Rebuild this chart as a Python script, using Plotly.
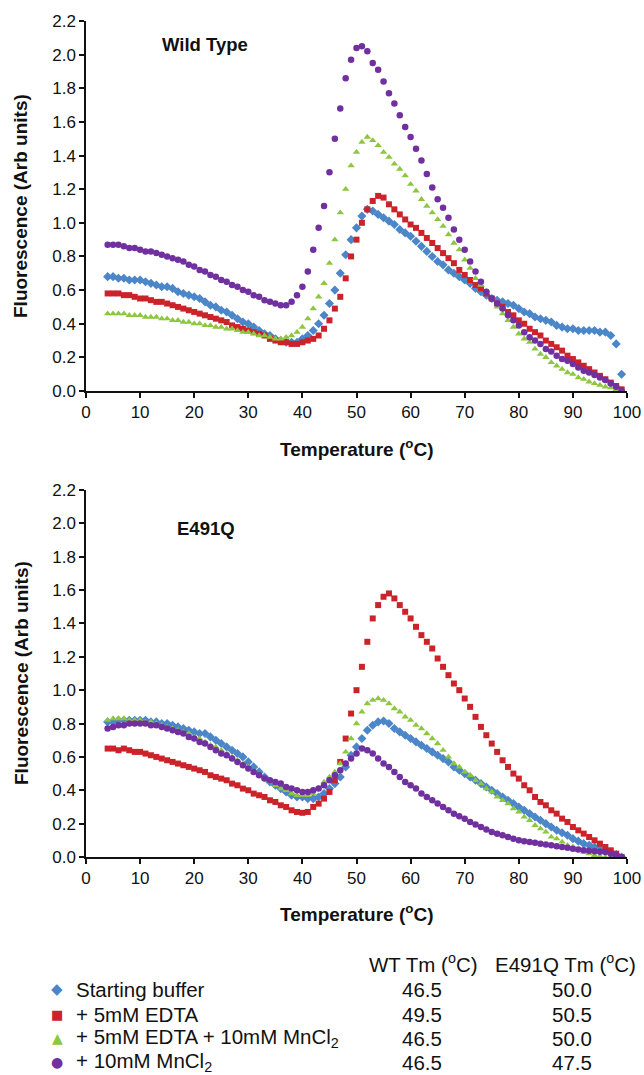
import plotly.graph_objects as go

# ---------------- data ----------------
temperature = list(range(4, 100))  # deg C

wt_buffer = [0.68,0.68,0.67,0.67,0.66,0.66,0.66,0.65,0.64,0.63,
             0.62,0.62,0.61,0.59,0.58,0.57,0.56,0.55,0.53,0.51,
             0.50,0.48,0.47,0.45,0.43,0.41,0.40,0.38,0.36,0.34,
             0.33,0.31,0.30,0.29,0.29,0.29,0.31,0.33,0.36,0.40,
             0.45,0.52,0.60,0.70,0.81,0.90,0.97,1.04,1.08,1.07,
             1.05,1.03,1.01,0.99,0.96,0.94,0.92,0.89,0.86,0.83,
             0.80,0.77,0.75,0.72,0.70,0.68,0.66,0.64,0.61,0.59,
             0.57,0.55,0.54,0.53,0.52,0.51,0.49,0.47,0.46,0.44,
             0.43,0.42,0.41,0.39,0.38,0.37,0.37,0.36,0.36,0.36,
             0.36,0.35,0.35,0.33,0.28,0.10]
wt_edta = [0.58,0.58,0.58,0.57,0.57,0.56,0.55,0.55,0.54,0.53,
           0.53,0.52,0.51,0.50,0.49,0.48,0.47,0.46,0.45,0.44,
           0.43,0.42,0.41,0.39,0.38,0.37,0.36,0.35,0.34,0.33,
           0.31,0.30,0.29,0.29,0.28,0.28,0.29,0.30,0.31,0.33,
           0.37,0.42,0.49,0.56,0.67,0.80,0.90,1.00,1.08,1.13,
           1.16,1.15,1.11,1.08,1.05,1.02,0.99,0.97,0.94,0.91,
           0.88,0.85,0.82,0.79,0.76,0.72,0.69,0.66,0.63,0.61,
           0.58,0.55,0.52,0.50,0.47,0.45,0.42,0.40,0.37,0.35,
           0.33,0.30,0.28,0.26,0.24,0.21,0.19,0.17,0.15,0.13,
           0.11,0.09,0.07,0.05,0.03,0.01]
wt_edta_mn = [0.46,0.46,0.46,0.46,0.45,0.45,0.45,0.44,0.44,0.44,
              0.43,0.43,0.42,0.42,0.41,0.41,0.40,0.40,0.39,0.39,
              0.38,0.38,0.37,0.37,0.36,0.35,0.35,0.34,0.33,0.33,
              0.32,0.31,0.31,0.32,0.33,0.35,0.38,0.43,0.49,0.56,
              0.64,0.76,0.90,1.06,1.20,1.34,1.42,1.48,1.51,1.49,
              1.46,1.42,1.39,1.35,1.32,1.28,1.23,1.19,1.14,1.10,
              1.06,1.02,0.98,0.93,0.88,0.84,0.78,0.73,0.67,0.63,
              0.59,0.55,0.50,0.46,0.42,0.38,0.34,0.31,0.29,0.25,
              0.22,0.20,0.17,0.15,0.13,0.11,0.10,0.08,0.07,0.055,
              0.045,0.035,0.025,0.02,0.01,0.00]
wt_mn = [0.87,0.87,0.87,0.86,0.85,0.85,0.84,0.83,0.83,0.82,
         0.81,0.80,0.79,0.78,0.77,0.75,0.74,0.72,0.71,0.69,
         0.68,0.66,0.65,0.63,0.62,0.60,0.59,0.57,0.56,0.54,
         0.53,0.52,0.51,0.51,0.53,0.57,0.62,0.71,0.84,0.97,
         1.10,1.30,1.50,1.68,1.86,1.97,2.04,2.05,2.02,1.95,
         1.91,1.84,1.77,1.71,1.64,1.57,1.51,1.44,1.37,1.29,
         1.21,1.14,1.09,1.03,0.96,0.90,0.84,0.77,0.71,0.65,
         0.59,0.55,0.52,0.49,0.45,0.42,0.39,0.35,0.32,0.30,
         0.28,0.25,0.235,0.21,0.19,0.18,0.16,0.14,0.12,0.11,
         0.095,0.08,0.065,0.045,0.025,0.005]

mut_buffer = [0.81,0.81,0.82,0.82,0.82,0.82,0.82,0.82,0.81,0.81,
              0.80,0.80,0.79,0.78,0.77,0.76,0.75,0.74,0.74,0.72,
              0.70,0.68,0.66,0.64,0.62,0.60,0.57,0.54,0.51,0.48,
              0.45,0.43,0.41,0.39,0.37,0.36,0.36,0.35,0.35,0.36,
              0.38,0.41,0.44,0.48,0.54,0.61,0.66,0.71,0.76,0.79,
              0.81,0.815,0.80,0.77,0.75,0.73,0.71,0.69,0.67,0.65,
              0.63,0.61,0.59,0.57,0.54,0.52,0.50,0.48,0.46,0.44,
              0.42,0.40,0.38,0.36,0.34,0.32,0.30,0.28,0.26,0.24,
              0.22,0.20,0.18,0.16,0.145,0.13,0.11,0.095,0.08,0.07,
              0.06,0.05,0.04,0.03,0.015,0.0]
mut_edta = [0.65,0.65,0.64,0.65,0.64,0.63,0.63,0.62,0.61,0.60,
            0.59,0.58,0.57,0.56,0.55,0.54,0.53,0.52,0.51,0.49,
            0.48,0.47,0.46,0.44,0.43,0.41,0.40,0.38,0.37,0.36,
            0.34,0.33,0.31,0.30,0.28,0.27,0.265,0.27,0.30,0.32,
            0.35,0.39,0.46,0.57,0.71,0.86,1.00,1.14,1.29,1.43,
            1.51,1.56,1.58,1.55,1.51,1.47,1.43,1.38,1.33,1.29,
            1.25,1.19,1.14,1.09,1.04,1.00,0.95,0.90,0.84,0.78,
            0.73,0.68,0.63,0.58,0.54,0.50,0.47,0.43,0.40,0.36,
            0.33,0.31,0.28,0.26,0.23,0.21,0.18,0.16,0.14,0.12,
            0.10,0.08,0.06,0.04,0.02,0.00]
mut_edta_mn = [0.82,0.83,0.83,0.83,0.82,0.82,0.82,0.81,0.81,0.80,
               0.79,0.78,0.77,0.76,0.75,0.74,0.72,0.71,0.69,0.67,
               0.66,0.64,0.62,0.60,0.58,0.56,0.54,0.51,0.49,0.47,
               0.45,0.43,0.41,0.40,0.38,0.37,0.37,0.37,0.38,0.41,
               0.45,0.48,0.51,0.56,0.63,0.71,0.80,0.87,0.92,0.94,
               0.95,0.94,0.92,0.89,0.87,0.84,0.82,0.79,0.77,0.74,
               0.71,0.68,0.64,0.60,0.56,0.54,0.51,0.49,0.46,0.44,
               0.41,0.39,0.36,0.34,0.32,0.29,0.27,0.24,0.22,0.19,
               0.17,0.15,0.12,0.11,0.09,0.07,0.06,0.04,0.03,0.02,
               0.01,0.005,0.0,0.0,0.0,0.0]
mut_mn = [0.77,0.78,0.79,0.79,0.80,0.80,0.80,0.80,0.79,0.79,
          0.78,0.77,0.76,0.75,0.74,0.72,0.71,0.69,0.68,0.66,
          0.64,0.62,0.61,0.59,0.57,0.55,0.53,0.51,0.49,0.47,
          0.46,0.45,0.44,0.42,0.41,0.40,0.39,0.39,0.40,0.41,
          0.43,0.46,0.49,0.52,0.56,0.59,0.62,0.65,0.64,0.62,
          0.59,0.56,0.54,0.51,0.48,0.45,0.43,0.41,0.38,0.36,
          0.34,0.32,0.30,0.28,0.26,0.245,0.23,0.21,0.195,0.18,
          0.165,0.15,0.14,0.13,0.12,0.11,0.10,0.095,0.09,0.085,
          0.08,0.075,0.07,0.065,0.06,0.055,0.05,0.045,0.04,0.038,
          0.035,0.032,0.03,0.02,0.01,0.0]

series_names = ["Starting buffer", "+ 5mM EDTA",
                "+ 5mM EDTA + 10mM MnCl<sub>2</sub>", "+ 10mM MnCl<sub>2</sub>"]
wt_tm = ["46.5", "49.5", "46.5", "46.5"]
mut_tm = ["50.0", "50.5", "50.0", "47.5"]
panel_labels = ["Wild Type", "E491Q"]
x_ticks = list(range(0, 101, 10))
y_ticks = [0.0, 0.2, 0.4, 0.6, 0.8, 1.0, 1.2, 1.4, 1.6, 1.8, 2.0, 2.2]

# ---------------- style ----------------
colors = ["#4A86C8", "#CC2229", "#8DC63F", "#7030A0"]
symbols = ["diamond", "square", "triangle-up", "circle"]
sizes = [7, 6, 6.5, 6.5]
glyphs = ["\u25C6", "\u25A0", "\u25B2", "\u25CF"]
glyph_sizes = [15, 13, 14, 14]
FONT = "Liberation Sans, Arial, sans-serif"
INK = "#111111"
W, H = 644, 1075

def px(v):
    return v / W

def py(v):
    return (H - v) / H

fig = go.Figure()
wt_sets = [wt_buffer, wt_edta, wt_edta_mn, wt_mn]
mut_sets = [mut_buffer, mut_edta, mut_edta_mn, mut_mn]
for i in range(4):
    fig.add_trace(go.Scatter(
        x=temperature, y=wt_sets[i], mode="markers", name=series_names[i],
        legendgroup=str(i), showlegend=False, xaxis="x", yaxis="y",
        marker=dict(symbol=symbols[i], size=sizes[i], color=colors[i], line=dict(width=0))))
for i in range(4):
    fig.add_trace(go.Scatter(
        x=temperature, y=mut_sets[i], mode="markers", name=series_names[i],
        legendgroup=str(i), showlegend=False, xaxis="x2", yaxis="y2",
        marker=dict(symbol=symbols[i], size=sizes[i], color=colors[i], line=dict(width=0))))

xdom = [px(86), px(627)]
axis_common = dict(showline=True, linecolor=INK, linewidth=1.5, ticks="outside",
                   ticklen=5, tickwidth=1.5, tickcolor=INK, showgrid=False,
                   zeroline=False, automargin=False,
                   tickfont=dict(family=FONT, size=17, color=INK))
xaxis_common = dict(axis_common, range=[0, 100], tickvals=x_ticks)
yaxis_common = dict(axis_common, range=[0, 2.2], tickvals=y_ticks, tickformat=".1f")

fig.update_layout(
    width=W, height=H, margin=dict(l=0, r=0, t=0, b=0, autoexpand=False),
    paper_bgcolor="white", plot_bgcolor="white", showlegend=False,
    xaxis=dict(xaxis_common, domain=xdom, anchor="y"),
    yaxis=dict(yaxis_common, domain=[py(391), py(21)], anchor="x"),
    xaxis2=dict(xaxis_common, domain=xdom, anchor="y2"),
    yaxis2=dict(yaxis_common, domain=[py(857), py(490)], anchor="x2"),
)

ann = []
title_font = dict(family=FONT, size=19, color=INK)
# axis titles
for ycen in [448, 913]:
    ann.append(dict(text="<b>Temperature (<sup>o</sup>C)</b>", xref="paper", yref="paper",
                    x=px(356), y=py(ycen), xanchor="center", yanchor="middle",
                    showarrow=False, font=title_font))
for ycen in [206, 673]:
    ann.append(dict(text="<b>Fluorescence (Arb units)</b>", xref="paper", yref="paper",
                    x=px(21), y=py(ycen), xanchor="center", yanchor="middle",
                    textangle=-90, showarrow=False, font=title_font))
# panel labels
ann.append(dict(text="<b>%s</b>" % panel_labels[0], xref="x", yref="y", x=22, y=2.06,
                xanchor="center", yanchor="middle", showarrow=False,
                font=dict(family=FONT, size=18.5, color=INK)))
ann.append(dict(text="<b>%s</b>" % panel_labels[1], xref="x2", yref="y2", x=22.2, y=1.97,
                xanchor="center", yanchor="middle", showarrow=False,
                font=dict(family=FONT, size=18.5, color=INK)))

# legend / Tm table
tfont = dict(family=FONT, size=20.5, color=INK)
ann.append(dict(text="WT Tm (<sup>o</sup>C)", xref="paper", yref="paper", x=px(423), y=py(963),
                xanchor="center", yanchor="middle", showarrow=False, font=tfont))
ann.append(dict(text="E491Q Tm (<sup>o</sup>C)", xref="paper", yref="paper", x=px(565), y=py(963),
                xanchor="center", yanchor="middle", showarrow=False, font=tfont))
row_y = [989, 1014, 1038, 1062]
for i in range(4):
    ann.append(dict(text=glyphs[i], xref="paper", yref="paper", x=px(57), y=py(row_y[i]),
                    xanchor="center", yanchor="middle", showarrow=False,
                    font=dict(family="DejaVu Sans", size=glyph_sizes[i], color=colors[i])))
    ann.append(dict(text=series_names[i], xref="paper", yref="paper", x=px(74), y=py(row_y[i]),
                    xanchor="left", yanchor="middle", showarrow=False, font=tfont))
    ann.append(dict(text=wt_tm[i], xref="paper", yref="paper", x=px(422), y=py(row_y[i]),
                    xanchor="center", yanchor="middle", showarrow=False, font=tfont))
    ann.append(dict(text=mut_tm[i], xref="paper", yref="paper", x=px(572), y=py(row_y[i]),
                    xanchor="center", yanchor="middle", showarrow=False, font=tfont))
fig.update_layout(annotations=ann)

# remove the browser's default 8px page margin so the 644x1075 figure fills the window
fig.write_html("out.html",
               config={"displayModeBar": False},
               post_script="document.body.style.margin='0px';"
                           "document.body.style.overflow='hidden';")
